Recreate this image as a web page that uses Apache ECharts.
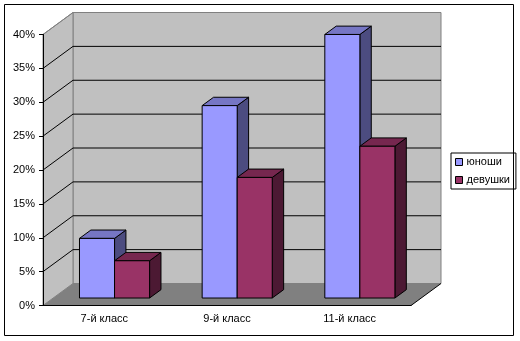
<!DOCTYPE html>
<html>
<head>
<meta charset="utf-8">
<script src="https://cdn.jsdelivr.net/npm/echarts@6/dist/echarts.min.js"></script>
<style>
html,body{margin:0;padding:0;background:#fff;}
#chart{width:520px;height:341px;}
</style>
</head>
<body>
<div id="chart"></div>
<script>
const categories = ['7-й класс', '9-й класс', '11-й класс'];
const seriesNames = ['юноши', 'девушки'];
const boys = [8.8, 28.4, 38.9];
const girls = [5.5, 17.8, 22.4];
const yTicks = [0, 5, 10, 15, 20, 25, 30, 35, 40];

const DX = 30, DY = 22;          // depth of the 3D box
const OFF = 0.34, DEP = 0.38;    // bar offset / depth as fraction of box depth
const FONT = "'Liberation Sans', Arial, sans-serif";

const frontColors = ['#9999FF', '#993366'];
const topColors = ['#7676C4', '#76274F'];
const sideColors = ['#4C4C80', '#4C1933'];

const chart = echarts.init(document.getElementById('chart'), null, {renderer: 'canvas'});

function wallsItem(params, api) {
  const cs = params.coordSys;
  const x0 = cs.x, x1 = cs.x + cs.width, yT = cs.y, yB = cs.y + cs.height;
  return {
    type: 'group',
    children: [
      {type: 'rect', shape: {x: x0 + DX, y: yT - DY, width: cs.width, height: cs.height},
        style: {fill: '#C0C0C0', stroke: '#808080', lineWidth: 1}},
      {type: 'polygon', shape: {points: [[x0, yT], [x0 + DX, yT - DY], [x0 + DX, yB - DY], [x0, yB]]},
        style: {fill: '#C0C0C0', stroke: '#808080', lineWidth: 1}},
      {type: 'polygon', shape: {points: [[x0, yB], [x0 + DX, yB - DY], [x1 + DX, yB - DY], [x1, yB]]},
        style: {fill: '#808080'}},
      {type: 'line', shape: {x1: x1, y1: yB, x2: x1 + DX, y2: yB - DY},
        style: {stroke: '#000', lineWidth: 1}}
    ]
  };
}

function gridItem(params, api) {
  const v = api.value(1);
  if (v === 0) return null;
  const cs = params.coordSys;
  const y = api.coord([0, v])[1];
  return {
    type: 'polyline',
    shape: {points: [[cs.x, y], [cs.x + DX, y - DY], [cs.x + cs.width + DX, y - DY]]},
    style: {stroke: v === 40 ? '#808080' : '#000', lineWidth: 1, fill: null}
  };
}

function barRenderer(s) {
  return function (params, api) {
    const i = api.value(0), v = api.value(1);
    const base = api.coord([i, 0]);
    const top = api.coord([i, v]);
    const bw = api.size([1, 0])[0];
    const w = bw / 3.5;
    const bx = DX * OFF, by = DY * OFF, dx = DX * DEP, dy = DY * DEP;
    const xl = base[0] - w + s * w + bx, xr = xl + w;
    const yt = top[1] - by, yb = base[1] - by;
    const st = {stroke: '#000', lineWidth: 1};
    return {
      type: 'group',
      children: [
        {type: 'polygon', shape: {points: [[xr, yt], [xr + dx, yt - dy], [xr + dx, yb - dy], [xr, yb]]},
          style: Object.assign({fill: sideColors[s]}, st)},
        {type: 'polygon', shape: {points: [[xl, yt], [xl + dx, yt - dy], [xr + dx, yt - dy], [xr, yt]]},
          style: Object.assign({fill: topColors[s]}, st)},
        {type: 'rect', shape: {x: xl, y: yt, width: w, height: yb - yt},
          style: Object.assign({fill: frontColors[s]}, st)}
      ]
    };
  };
}

const option = {
  animation: false,
  backgroundColor: '#fff',
  textStyle: {fontFamily: FONT},
  graphic: [{
    type: 'rect', z: 100, silent: true,
    shape: {x: 4.5, y: 4.5, width: 509, height: 331},
    style: {fill: null, stroke: '#000', lineWidth: 1}
  }],
  legend: {
    orient: 'vertical',
    left: 451, top: 153,
    padding: [3, 6, 3, 4],
    itemWidth: 7, itemHeight: 7, itemGap: 6,
    icon: 'rect',
    borderColor: '#000', borderWidth: 1,
    itemStyle: {borderColor: '#000', borderWidth: 1},
    textStyle: {fontSize: 11, color: '#000', fontFamily: FONT, lineHeight: 12, padding: [0, 0, 0, -1]},
    data: seriesNames
  },
  grid: {left: 43, right: 109, top: 34.5, bottom: 35.5, containLabel: false},
  xAxis: {
    type: 'category', data: categories, z: 10,
    axisLine: {lineStyle: {color: '#000', width: 1}},
    axisTick: {length: 4, lineStyle: {color: '#000'}},
    axisLabel: {color: '#000', fontSize: 11, margin: 8, fontFamily: FONT}
  },
  yAxis: {
    type: 'value', min: 0, max: 40, interval: 5, z: 10,
    axisLine: {show: true, lineStyle: {color: '#000', width: 1}},
    axisTick: {show: true, length: 4, lineStyle: {color: '#000'}},
    axisLabel: {color: '#000', fontSize: 11, margin: 8, fontFamily: FONT, formatter: '{value}%'},
    splitLine: {show: false}
  },
  series: [
    {type: 'custom', name: '_walls', z: 1, clip: false, silent: true, renderItem: wallsItem,
      data: [[0, 0]], encode: {x: 0, y: 1}},
    {type: 'custom', name: '_grid', z: 2, clip: false, silent: true, renderItem: gridItem,
      data: yTicks.map(v => [0, v]), encode: {x: 0, y: 1}},
    {type: 'custom', name: seriesNames[0], z: 3, clip: false, renderItem: barRenderer(0),
      itemStyle: {color: frontColors[0]},
      data: boys.map((v, i) => [i, v]), encode: {x: 0, y: 1}},
    {type: 'custom', name: seriesNames[1], z: 4, clip: false, renderItem: barRenderer(1),
      itemStyle: {color: frontColors[1]},
      data: girls.map((v, i) => [i, v]), encode: {x: 0, y: 1}}
  ]
};
chart.setOption(option);
</script>
</body>
</html>
